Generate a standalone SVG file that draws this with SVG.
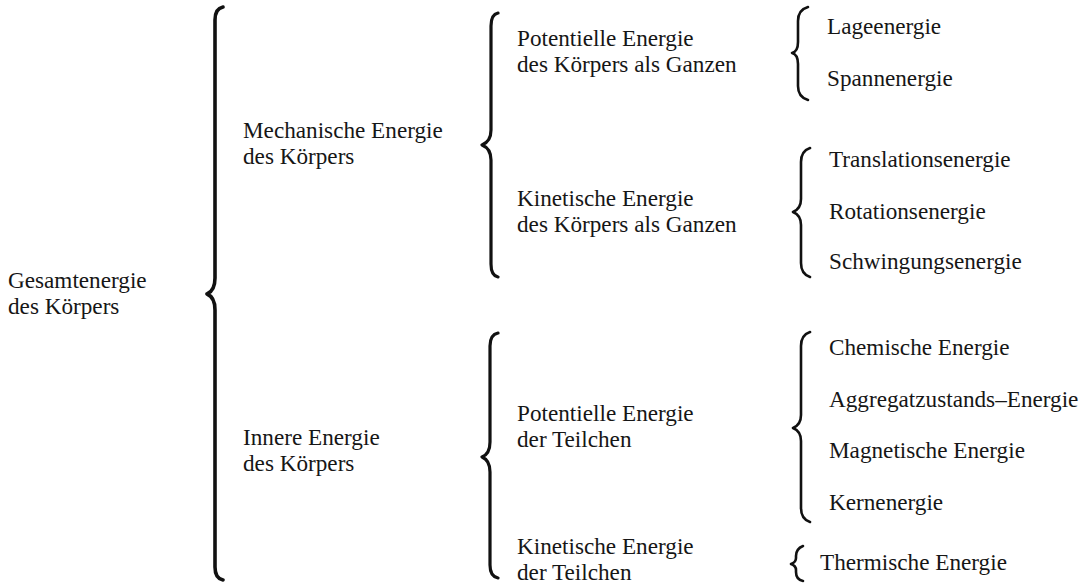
<svg xmlns="http://www.w3.org/2000/svg" width="1092" height="586" viewBox="0 0 1092 586">
  <style>
    text { font-family: "Liberation Serif", "Times New Roman", serif; font-size: 23.2px; fill: #161616; }
    .brace { fill: none; stroke: #111; stroke-linecap: round; stroke-linejoin: round; }
    .b1 { stroke-width: 3.6; }
    .b2 { stroke-width: 3.2; }
    .b3 { stroke-width: 2.6; }
  </style>
  <rect width="1092" height="586" fill="#fff"/>

  <!-- braces linking each level to the next -->
  <g id="connectors">
    <path class="brace b1" d="M223,7 C218,8 215,12 215,20 L215,278 C215,287 212,292 207,294 C212,296 215,301 215,310 L215,567 C215,575 218,579 223,580"/>
    <path class="brace b2" d="M498,13 C493,14 491,18 491,26 L491,130 C491,139 487,143 482,145 C487,147 491,151 491,160 L491,264 C491,272 493,276 498,277"/>
    <path class="brace b2" d="M498,333 C493,334 490,338 490,346 L490,442 C490,451 487,455 482,457 C487,459 490,463 490,472 L490,565 C490,573 493,577 498,578"/>
    <path class="brace b3" d="M808,7 C801,9 798,13 798,21 L798,42 C798,48 796,52 792,53 C796,54 798,58 798,64 L798,86 C798,94 801,98 808,100"/>
    <path class="brace b3" d="M810,148 C804,150 801,154 801,162 L801,199 C801,206 798,210 793,212 C798,214 801,218 801,225 L801,263 C801,271 804,275 810,277"/>
    <path class="brace b3" d="M810,332 C804,334 801,338 801,346 L801,415 C801,422 798,426 793,428 C798,430 801,434 801,441 L801,508 C801,516 804,520 810,522"/>
    <path class="brace b3" d="M803,546 C798,548 796,551 796,556 L796,558 C796,561 794,563 791,564 C794,565 796,567 796,570 L796,572 C796,577 798,580 803,581"/>
  </g>

  <!-- two-line labels: second line is a tspan 26px below -->
  <g id="gesamt"><text x="8" y="288">Gesamtenergie<tspan x="8" dy="26">des Körpers</tspan></text></g>

  <g id="mechanisch"><text x="243" y="138">Mechanische Energie<tspan x="243" dy="26">des Körpers</tspan></text></g>
  <g id="innere"><text x="243" y="445">Innere Energie<tspan x="243" dy="26">des Körpers</tspan></text></g>

  <g id="pot-ganz"><text x="517" y="46">Potentielle Energie<tspan x="517" dy="26">des Körpers als Ganzen</tspan></text></g>
  <g id="kin-ganz"><text x="517" y="206">Kinetische Energie<tspan x="517" dy="26">des Körpers als Ganzen</tspan></text></g>
  <g id="pot-teil"><text x="517" y="421">Potentielle Energie<tspan x="517" dy="26">der Teilchen</tspan></text></g>
  <g id="kin-teil"><text x="517" y="554">Kinetische Energie<tspan x="517" dy="26">der Teilchen</tspan></text></g>

  <g id="lage"><text x="827" y="34">Lageenergie</text></g>
  <g id="spann"><text x="827" y="86">Spannenergie</text></g>
  <g id="translation"><text x="829" y="167">Translationsenergie</text></g>
  <g id="rotation"><text x="829" y="219">Rotationsenergie</text></g>
  <g id="schwingung"><text x="829" y="269">Schwingungsenergie</text></g>
  <g id="chemisch"><text x="829" y="355">Chemische Energie</text></g>
  <g id="aggregat"><text x="829" y="407">Aggregatzustands–Energie</text></g>
  <g id="magnetisch"><text x="829" y="458">Magnetische Energie</text></g>
  <g id="kern"><text x="829" y="510">Kernenergie</text></g>
  <g id="thermisch"><text x="820" y="570">Thermische Energie</text></g>
</svg>
